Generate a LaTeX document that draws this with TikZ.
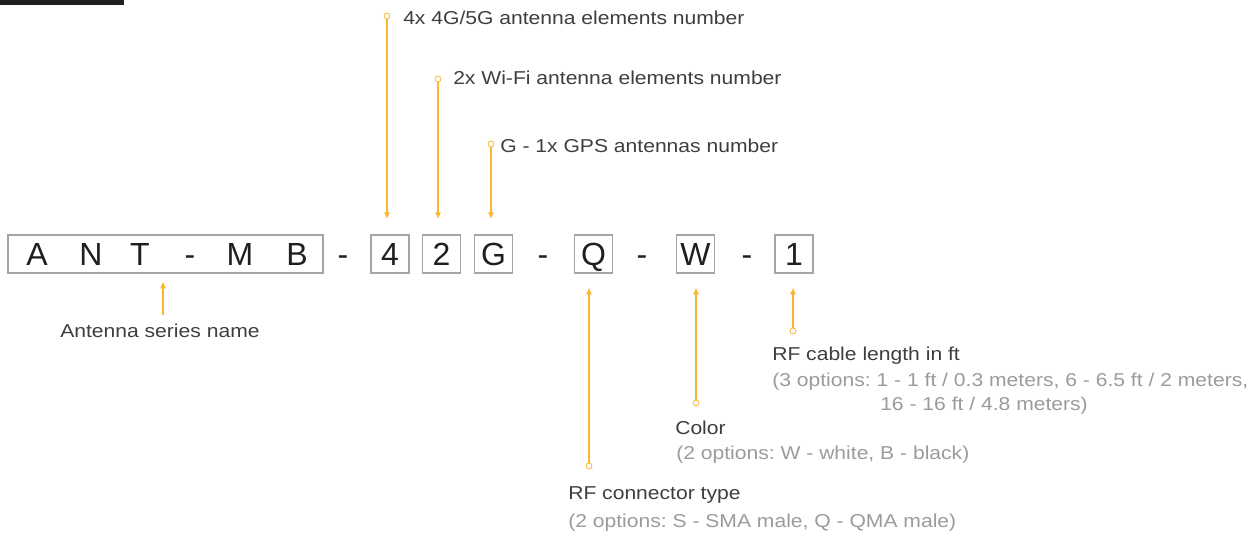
\documentclass[tikz,border=0pt]{standalone}
\usepackage{fontspec}
\setmainfont{Liberation Sans}
\newfontfamily\labfont[FakeStretch=1.13]{Liberation Sans}
\usetikzlibrary{arrows.meta}
\definecolor{antorange}{RGB}{250,182,44}
\definecolor{boxgray}{RGB}{165,165,165}
\definecolor{textdark}{RGB}{62,62,62}
\definecolor{textgray}{RGB}{155,155,155}
\frenchspacing

\begin{document}
\begin{tikzpicture}[x=0.75pt,y=-0.75pt]

	\tikzstyle{code_box}=[rectangle, draw=boxgray, line width=1pt, minimum width=28.5pt, minimum height=28.5pt, inner sep=0pt, text=black!88, font=\fontsize{24}{24}\selectfont, text height=17pt, text depth=0pt]
	\tikzstyle{code_letter}=[anchor=base, inner sep=0pt, text=black!88, font=\fontsize{24}{24}\selectfont]
	\tikzstyle{tail_dot}=[circle, draw=antorange, fill=white, line width=0.6pt, inner sep=0pt, minimum size=4.5pt]
	\tikzstyle{pointer}=[-{Latex[length=5pt,width=4.5pt]}, draw=antorange, fill=antorange, line width=0.8pt]
	\tikzstyle{title_text}=[anchor=base west, inner sep=0pt, text=textdark, font=\labfont\fontsize{14}{18}\selectfont]
	\tikzstyle{option_text}=[title_text, text=textgray, align=left]

	\useasboundingbox (0,0) rectangle (1258,534);
	\fill[black!88] (0,0) rectangle (124,5);

	%Code boxes
	\node[code_box, minimum width=236.25pt] at (165.5,254) (series_box) {};
	\foreach \ch/\xx in {A/37, N/91, T/140, -/190, M/240, B/297}
		\node[code_letter] (ltr-\xx) at (\xx,266) {\ch};
	\node[code_box] at (390,254) (lte_box) {4};
	\node[code_box] at (441.5,254) (wifi_box) {2};
	\node[code_box] at (493.5,254) (gps_box) {G};
	\node[code_box] at (593.5,254) (conn_box) {Q};
	\node[code_box] at (695.5,254) (color_box) {W};
	\node[code_box] at (794,254) (cable_box) {1};
	\foreach \xx in {343, 543, 642, 747}
		\node[code_letter] (dash-\xx) at (\xx,266) {-};

	%Label dots
	\node[tail_dot] at (387,16) (lte_dot) {};
	\node[tail_dot] at (438,79) (wifi_dot) {};
	\node[tail_dot] at (491,144) (gps_dot) {};
	\node[tail_dot] at (589,466) (conn_dot) {};
	\node[tail_dot] at (696,403) (color_dot) {};
	\node[tail_dot] at (793,331) (cable_dot) {};
	\coordinate (series_foot) at (163,315);

	% Text nodes
	\node[title_text] at (403,25) (lte_label) {4x 4G/5G antenna elements number};
	\node[title_text] at (453,85) (wifi_label) {2x Wi-Fi antenna elements number};
	\node[title_text] at (500,153) (gps_label) {G - 1x GPS antennas number};
	\node[title_text] at (60,338) (series_label) {Antenna series name};
	\node[title_text] at (772,361) (cable_label) {RF cable length in ft};
	\node[option_text] at (772,411) (cable_opts) {(3 options: 1 - 1 ft / 0.3 meters, 6 - 6.5 ft / 2 meters,\\\hspace*{81pt}16 - 16 ft / 4.8 meters)};
	\node[title_text] at (675,435) (color_label) {Color};
	\node[option_text] at (676,460) (color_opts) {(2 options: W - white, B - black)};
	\node[title_text] at (568,500) (conn_label) {RF connector type};
	\node[option_text] at (568,528) (conn_opts) {(2 options: S - SMA male, Q - QMA male)};

	% Connections
	\draw[pointer, shorten >=11.5pt] (lte_dot) -- (lte_dot |- lte_box.north);
	\draw[pointer, shorten >=11.5pt] (wifi_dot) -- (wifi_dot |- wifi_box.north);
	\draw[pointer, shorten >=11.5pt] (gps_dot) -- (gps_dot |- gps_box.north);
	\draw[pointer, shorten >=6pt] (series_foot) -- (series_foot |- series_box.south);
	\draw[pointer, shorten >=10.5pt] (conn_dot) -- (conn_dot |- conn_box.south);
	\draw[pointer, shorten >=10.5pt] (color_dot) -- (color_dot |- color_box.south);
	\draw[pointer, shorten >=10.5pt] (cable_dot) -- (cable_dot |- cable_box.south);

\end{tikzpicture}
\end{document}
